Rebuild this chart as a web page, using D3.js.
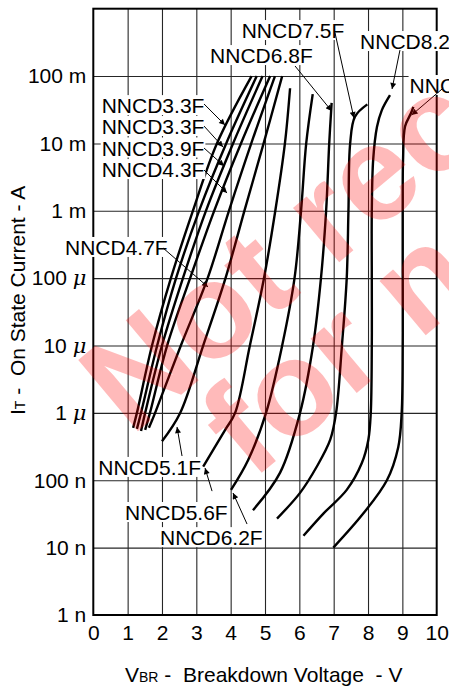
<!DOCTYPE html>
<html><head><meta charset="utf-8">
<script src="https://cdn.jsdelivr.net/npm/d3@7"></script>
<style>
html,body{margin:0;padding:0;background:#fff;}
svg{display:block;font-family:"Liberation Sans",Arial,Helvetica,sans-serif;}
</style></head><body>
<svg id="c" width="449" height="688"></svg>
<script>
// ---- data (V in volts, I in amperes) ----
const xTicks = [0,1,2,3,4,5,6,7,8,9,10];
const yTickValues = [1e-1,1e-2,1e-3,1e-4,1e-5,1e-6,1e-7,1e-8,1e-9];
const yTickNumbers = ["100","10","1","100","10","1","100","10","1"];
const yTickUnits = ["m","m","m","μ","μ","μ","n","n","n"];

const nncd33F = [[1.16,6.0e-7],[1.27,1e-6],[1.71,1e-5],[2.26,1e-4],[2.90,1e-3],[3.60,1e-2],[4.61,1e-1]];
const nncd36F = [[1.27,5.8e-7],[1.39,1e-6],[1.86,1e-5],[2.41,1e-4],[3.08,1e-3],[3.87,1e-2],[4.76,1e-1]];
const nncd39F = [[1.39,5.4e-7],[1.51,1e-6],[2.00,1e-5],[2.61,1e-4],[3.28,1e-3],[4.07,1e-2],[4.93,1e-1]];
const nncd43F = [[1.51,5.6e-7],[1.65,1e-6],[2.15,1e-5],[2.82,1e-4],[3.52,1e-3],[4.30,1e-2],[5.15,1e-1]];
const nncd47F = [[1.62,6.0e-7],[1.80,1e-6],[2.55,1e-5],[3.33,1e-4],[3.95,1e-3],[4.60,1e-2],[5.29,1e-1]];
const nncd51F = [[2.00,3.8e-7],[2.53,1e-6],[3.20,1e-5],[3.85,1e-4],[4.40,1e-3],[4.96,1e-2],[5.50,1e-1]];
const nncd56F = [[3.20,1.6e-7],[3.84,5.6e-7],[4.13,1e-6],[4.56,1e-5],[4.97,1e-4],[5.30,1e-3],[5.58,1e-2],[5.73,6.6e-2]];
const nncd62F = [[4.01,7.2e-8],[4.51,2.0e-7],[5.03,1e-6],[5.50,1e-5],[5.86,1e-4],[6.05,1e-3],[6.20,1e-2],[6.39,5.4e-2]];
const nncd68F = [[4.65,3.6e-8],[5.44,1.3e-7],[6.02,1e-6],[6.40,1e-5],[6.63,1e-4],[6.78,1e-3],[6.87,1e-2],[6.94,4.0e-2]];
const nncd75F = [[5.35,2.7e-8],[6.02,6.5e-8],[6.51,1.6e-7],[6.90,4.0e-7],[7.07,1e-6],[7.24,1e-5],[7.38,1e-4],[7.43,1e-3],[7.48,1e-2],[7.62,2.5e-2],[7.98,3.8e-2]];
const nncd82F = [[6.12,1.5e-8],[6.70,3.2e-8],[7.38,7.2e-8],[7.82,1.8e-7],[8.01,4.0e-7],[8.08,1e-6],[8.11,1e-5],[8.11,1e-4],[8.11,1e-3],[8.15,5.7e-3],[8.26,1.75e-2],[8.40,3.1e-2],[8.64,5.2e-2]];
const nncd91F = [[6.99,1.0e-8],[7.86,3.2e-8],[8.55,1.0e-7],[8.88,3.1e-7],[8.98,1e-6],[9.01,1e-5],[9.01,1e-4],[9.01,1e-3],[9.02,5.7e-3],[9.08,1.8e-2],[9.25,2.8e-2],[9.32,3.5e-2]];

const seriesList = [nncd33F,nncd36F,nncd39F,nncd43F,nncd47F,nncd51F,nncd56F,nncd62F,nncd68F,nncd75F,nncd82F,nncd91F];

// annotation labels: text, label anchor (V, I at baseline), leader start (V,I), arrow tip (V,I)
const labelTexts = ["NNCD7.5F","NNCD6.8F","NNCD8.2F","NNCD9.1F","NNCD3.3F","NNCD3.3F","NNCD3.9F","NNCD4.3F","NNCD4.7F","NNCD5.1F","NNCD5.6F","NNCD6.2F"];
const labelAnchors = [[4.32,0.367],[3.40,0.156],[7.77,0.252],[9.21,0.056],[0.245,0.0282],[0.245,0.0138],[0.245,0.00662],[0.245,0.00317],[-0.824,2.21e-4],[0.146,1.2e-7],[0.923,2.57e-8],[1.943,1.09e-8]];
const leaderStarts = [[7.04,0.435],[5.875,0.141],[8.93,0.243],[10.19,0.0664],[3.225,0.0385],[3.225,0.0181],[3.225,0.00855],[3.225,0.00403],[2.03,2.81e-4],[2.584,2.29e-7],[3.458,6.9e-8],[4.477,2.24e-8]];
const leaderTips = [[7.59,0.0238],[6.94,0.0303],[8.70,0.0643],[9.27,0.0264],[3.836,0.01875],[3.778,0.00885],[3.807,0.00462],[3.895,0.001837],[3.341,7.4e-5],[2.438,6.18e-7],[3.254,1.52e-7],[4.069,6.47e-8]];

// ---- drawing ----
const W = 449, H = 688;
const svg = d3.select("#c");
svg.append("rect").attr("x",0).attr("y",0).attr("width",W).attr("height",H).style("fill","#ffffff");

const x = d3.scaleLinear().domain([0,10]).range([93.3,436.7]);
const y = d3.scaleLog().domain([1e-9,1]).range([615,8.7]);
const plotTop = y(1), plotBottom = y(1e-9), plotLeft = x(0), plotRight = x(10);

// grid via axes
const gridX = svg.append("g").attr("transform",`translate(0,${plotBottom})`)
  .call(d3.axisBottom(x).tickValues(xTicks.slice(1,-1)).tickSize(-(plotBottom-plotTop)).tickFormat(""));
gridX.select(".domain").remove();
gridX.selectAll("line").style("stroke","#262626").style("stroke-width","1.1px");

const gridY = svg.append("g").attr("transform",`translate(${plotLeft},0)`)
  .call(d3.axisLeft(y).tickValues(yTickValues.slice(0,-1)).tickSize(-(plotRight-plotLeft)).tickFormat(""));
gridY.select(".domain").remove();
gridY.selectAll("line").style("stroke","#262626").style("stroke-width","1.1px");

// x axis labels
const gx = svg.append("g").attr("transform",`translate(0,${plotBottom})`)
  .call(d3.axisBottom(x).tickValues(xTicks).tickSize(0).tickPadding(10).tickFormat(d3.format("d")));
gx.select(".domain").remove();
gx.selectAll("text").attr("font-size",21).style("fill","#000").attr("font-family","Liberation Sans, Arial, sans-serif");

// y axis labels
const gy = svg.append("g").attr("transform",`translate(${plotLeft},0)`)
  .call(d3.axisLeft(y).tickValues(yTickValues).tickSize(0).tickPadding(7).tickFormat(""));
gy.select(".domain").remove();
gy.selectAll(".tick text").each(function(d){
  const i = yTickValues.indexOf(d);
  const t = d3.select(this).attr("font-size",21).style("fill","#000").attr("font-family","Liberation Sans, Arial, sans-serif");
  t.text(null);
  t.append("tspan").text(yTickNumbers[i]+"\u00a0");
  const u = t.append("tspan").text(yTickUnits[i]);
  if (yTickUnits[i]==="μ") u.attr("font-style","italic").attr("font-family","DejaVu Serif, serif");
});

// curves
const line = d3.line().x(d=>x(d[0])).y(d=>y(d[1])).curve(d3.curveCatmullRom.alpha(0.5));
svg.append("g").selectAll("path").data(seriesList).join("path")
  .attr("d",line).style("fill","none").style("stroke","#000").style("stroke-width","2.4px");

// frame
svg.append("rect").attr("x",plotLeft).attr("y",plotTop).attr("width",plotRight-plotLeft).attr("height",plotBottom-plotTop)
  .style("fill","none").style("stroke","#000").style("stroke-width","2px");

// labels with white background
const lab = svg.append("g");
labelTexts.forEach((t,i)=>{
  const g = lab.append("g");
  const r = g.append("rect").style("fill","#fff");
  const tx = g.append("text").attr("x",x(labelAnchors[i][0])).attr("y",y(labelAnchors[i][1]))
    .attr("font-size",21).style("fill","#000").text(t);
  const b = tx.node().getBBox();
  r.attr("x",b.x-1).attr("y",b.y+1).attr("width",b.width+2).attr("height",b.height-3);
});

// leaders with arrowheads
svg.append("defs").append("marker").attr("id","ah").attr("viewBox","0 0 10 10")
  .attr("refX",10).attr("refY",5).attr("markerWidth",10).attr("markerHeight",6)
  .attr("markerUnits","userSpaceOnUse").attr("orient","auto")
  .append("path").attr("d","M0,0L10,5L0,10Z").style("fill","#000");
svg.append("g").selectAll("line").data(leaderStarts).join("line")
  .attr("x1",d=>x(d[0])).attr("y1",d=>y(d[1]))
  .attr("x2",(d,i)=>x(leaderTips[i][0])).attr("y2",(d,i)=>y(leaderTips[i][1]))
  .style("stroke","#000").style("stroke-width","1px").attr("marker-end","url(#ah)");

// axis titles
const xt = svg.append("text").attr("x",125).attr("y",682).attr("font-size",21).style("fill","#000");
xt.append("tspan").text("V");
xt.append("tspan").attr("font-size",14).text("BR");
xt.append("tspan").text(" -\u00a0 Breakdown Voltage\u00a0 - V");

const yt = svg.append("text").attr("transform","translate(25,415) rotate(-90)").attr("font-size",21).style("fill","#000");
yt.append("tspan").text("I");
yt.append("tspan").attr("font-size",14).text("T");
yt.append("tspan").text(" -\u00a0 On State Current - A");

// watermark
const wm = svg.append("g").style("fill","#ff0000").style("fill-opacity",0.27)
  .attr("font-weight","bold").attr("font-size",135);
wm.append("text").attr("transform","translate(131,437) rotate(-40)").text("Not recommended");
wm.append("text").attr("transform","translate(252,481) rotate(-40)").text("for new design");
</script>
</body></html>
